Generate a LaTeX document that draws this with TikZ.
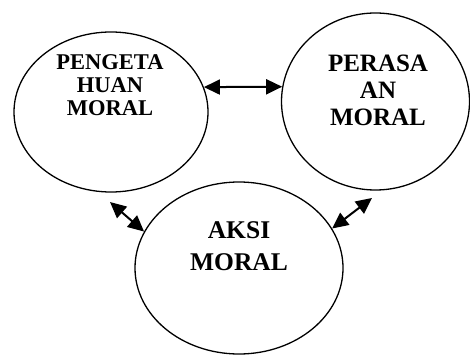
\documentclass[tikz,border=0pt]{standalone}
\usepackage{fontspec}
\setmainfont{Liberation Serif}
\usetikzlibrary{arrows.meta,shapes.geometric}
\begin{document}
\begin{tikzpicture}[x=1pt,y=1pt,
  bubble/.style={draw,ellipse,line width=1.3pt,inner sep=0pt},
  lab/.style={align=center,font=\bfseries,inner sep=0pt},
  link/.style={line width=2pt,{Triangle[length=16pt,width=15pt]}-{Triangle[length=16pt,width=15pt]}}]
\useasboundingbox (0,0) rectangle (470,356);
\node[bubble,minimum width=194pt,minimum height=160pt] (L) at (111,244) {};
\node[bubble,minimum width=188pt,minimum height=177pt] (R) at (375.5,254.5) {};
\node[bubble,minimum width=208pt,minimum height=172pt] (B) at (239,88) {};
\node[lab,font=\bfseries\fontsize{22.5}{23}\selectfont] (tL) at (110,271) {PENGETA\\HUAN\\MORAL};
\node[lab,font=\bfseries\fontsize{25}{27}\selectfont] (tR) at (378,266) {PERASA\\AN\\MORAL};
\node[lab,font=\bfseries\fontsize{25.5}{32}\selectfont] (tB) at (239,110) {AKSI\\MORAL};
\coordinate (a) at (110,154);
\coordinate (c) at (372,158);
\draw[link] (L.15) -- (R.171);
\draw[link] (a) -- (B.159);
\draw[link] (c) -- (B.23);
\end{tikzpicture}
\end{document}
